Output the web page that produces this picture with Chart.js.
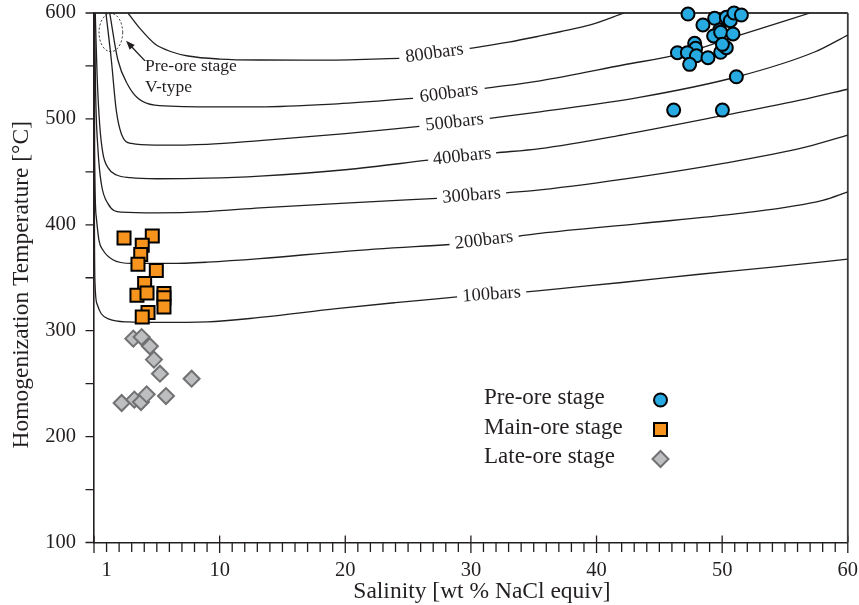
<!DOCTYPE html>
<html>
<head>
<meta charset="utf-8">
<script src="https://cdn.jsdelivr.net/npm/chart.js@4.4.1/dist/chart.umd.min.js"></script>
<style>
  html, body { margin: 0; padding: 0; background: #ffffff; }
  #wrap { width: 859px; height: 605px; }
</style>
</head>
<body>
<div id="wrap"><canvas id="chart" width="859" height="605"></canvas></div>
<script>
const SERIF = '"Liberation Serif", "Times New Roman", Times, serif';
const INK = '#231f20';

// Axis ranges, labelled ticks and titles
const xRange = [0, 60];
const yRange = [100, 600];
const xTickLabels = [1, 10, 20, 30, 40, 50, 60];
const yTickLabels = [100, 200, 300, 400, 500, 600];
const xTitle = 'Salinity [wt % NaCl equiv]';
const yTitle = 'Homogenization Temperature [°C]';

// Fluid inclusions: salinity (wt% NaCl equiv) vs homogenization temperature (°C)
const preOreSal = [47.28, 48.47, 49.40, 50.33, 50.65, 50.94, 51.53, 49.80, 49.32, 49.88, 50.86, 47.81,
                   47.89, 46.44, 47.23, 47.95, 47.41, 48.87, 49.88, 50.33, 50.02, 51.13, 46.14, 50.02];
const preOreTh  = [599, 588.7, 595, 595.9, 592.7, 600, 598.1, 583.9, 578.3, 581.8, 580.2, 571.4,
                   566.6, 562.5, 562.5, 559.6, 551.5, 557.8, 562.9, 567.2, 570.4, 539.8, 508.3, 508.3];

const mainOreSal = [2.39, 4.64, 3.84, 3.72, 3.50, 4.96, 4.03, 3.42, 4.22, 5.57, 5.57, 5.57, 4.30, 3.84];
const mainOreTh  = [387.6, 389.5, 380.7, 371.9, 362.8, 356.8, 344.5, 333.5, 335.6, 335.1, 331, 322.4, 317.1, 312.9];

const lateOreSal = [3.13, 3.79, 4.45, 4.77, 5.25, 7.77, 2.20, 3.21, 3.74, 4.19, 5.73];
const lateOreTh  = [292.5, 294.0, 285.3, 272.7, 259.4, 254.7, 231.7, 234.9, 232.6, 239.9, 238.3];

// Isobars of the H2O-NaCl system; a null temperature marks where the label sits
const isobar100Sal = [0.01, 0.03, 0.08, 0.25, 0.58, 1.2, 2.7, 5, 9, 13.2, 19.3, 24, 28.9, 31.65, 34.4, 37.1, 42, 48.2, 54, 60];
const isobar100T   = [600, 420, 345, 325, 316, 311, 308.3, 307.8, 308.3, 312.5, 320.9, 326.5, 331.9, null, 336.6, 339.8, 345.5, 353.3, 360, 367.5];

const isobar200Sal = [0.03, 0.05, 0.18, 0.4, 0.72, 1.5, 3, 6, 9, 13.2, 20, 28.3, 31.05, 33.8, 35.5, 43.4, 51.4, 58, 60];
const isobar200T   = [600, 470, 407.5, 385, 376, 367, 363.5, 363.5, 364.7, 368, 375, 381.4, null, 389.2, 392, 401.2, 410.7, 423, 431];

const isobar300Sal = [0.05, 0.12, 0.32, 0.58, 1.11, 2.17, 5, 9, 13.2, 20, 27.3, 30.05, 32.8, 35.5, 43.4, 50.1, 56.7, 60];
const isobar300T   = [600, 530, 470.5, 439, 420, 412, 411.3, 412.5, 416, 420.5, 424.9, null, 430.2, 433, 445.3, 458, 473.6, 484.7];

const isobar400Sal = [0.1, 0.25, 0.45, 0.7, 1.11, 1.8, 2.9, 5, 9, 13.2, 20, 26.6, 29.3, 32, 35.5, 42.1, 50, 56.7, 60];
const isobar400T   = [600, 540, 495, 468, 454, 447, 444.5, 443.5, 444, 446, 452, 461, null, 468, 472, 485, 503, 519, 528];

const isobar500Sal = [0.95, 1.38, 1.77, 2.17, 2.97, 4.83, 9, 13.2, 20, 25.9, 28.7, 31.5, 35.5, 43.4, 51.2, 57.4, 60];
const isobar500T   = [600, 555.6, 508.3, 486.3, 476.8, 475.2, 476, 479.5, 486, 492.9, null, 500.5, 506.7, 520.3, 539.8, 563.4, 579.2];

const isobar600Sal = [1.25, 1.9, 2.7, 3.5, 4.83, 9, 13.2, 19, 25.4, 28.25, 31.1, 35.5, 42.1, 46.9, 51.4, 57];
const isobar600T   = [600, 555.6, 532, 519.4, 513, 511.4, 511.4, 514, 519.4, null, 528.8, 536, 550.9, 561.9, 579.2, 600];

const isobar800Sal = [2.7, 3.76, 4.83, 6.15, 7.48, 10, 13.2, 18, 24.3, 27.1, 29.9, 33, 35.5, 37.1, 39.5, 42.2];
const isobar800T   = [600, 584, 571, 563.4, 559.4, 556.5, 555.6, 555.5, 557.2, null, 566.6, 572.5, 578.3, 582.3, 588.7, 600];

const isobarNames = ['100bars', '200bars', '300bars', '400bars', '500bars', '600bars', '800bars'];
const isobarSal = [isobar100Sal, isobar200Sal, isobar300Sal, isobar400Sal, isobar500Sal, isobar600Sal, isobar800Sal];
const isobarT   = [isobar100T, isobar200T, isobar300T, isobar400T, isobar500T, isobar600T, isobar800T];

// Legend entries and the V-type note near the origin
const stageNames = ['Pre-ore stage', 'Main-ore stage', 'Late-ore stage'];
const noteLines = ['Pre-ore stage', 'V-type'];

const toPoints = (xs, ys) => xs.map((x, i) => ({ x: x, y: ys[i] }));

const stageStyles = [
  { pointStyle: 'circle',  radius: 6.5, fill: '#27aae1', stroke: '#000000', width: 2 },
  { pointStyle: 'rect',    radius: 9.2, fill: '#f7941d', stroke: '#000000', width: 2 },
  { pointStyle: 'rectRot', radius: 8,   fill: '#bcbec0', stroke: '#717173', width: 2 }
];
const stageData = [toPoints(preOreSal, preOreTh), toPoints(mainOreSal, mainOreTh), toPoints(lateOreSal, lateOreTh)];

const datasets = [];
stageNames.forEach((name, i) => {
  const s = stageStyles[i];
  datasets.push({
    label: name,
    data: stageData[i],
    pointStyle: s.pointStyle,
    pointRadius: s.radius,
    pointBackgroundColor: s.fill,
    pointBorderColor: s.stroke,
    pointBorderWidth: s.width,
    showLine: false,
    clip: false,
    order: 0
  });
});
isobarNames.forEach((name, i) => {
  datasets.push({
    label: name,
    data: toPoints(isobarSal[i], isobarT[i]),
    showLine: true,
    spanGaps: false,
    pointRadius: 0,
    borderColor: INK,
    borderWidth: 1.3,
    cubicInterpolationMode: 'monotone',
    order: 5
  });
});

// Tick marks, frame, axis titles, isobar labels, note and legend
const decorPlugin = {
  id: 'decor',
  beforeDatasetsDraw(chart) {
    const { ctx, chartArea: a, scales: { x, y } } = chart;
    ctx.save();
    ctx.strokeStyle = INK;
    ctx.lineWidth = 1.3;
    ctx.beginPath();
    for (let v = xRange[0]; v <= xRange[1]; v += 1) {
      const px = x.getPixelForValue(v);
      if (v % 10 === 0) { ctx.moveTo(px, a.bottom - 7); ctx.lineTo(px, a.bottom + 10.5); }
      else { ctx.moveTo(px, a.bottom); ctx.lineTo(px, a.bottom + 9.5); }
    }
    for (let v = yRange[0]; v <= yRange[1]; v += 50) {
      const py = y.getPixelForValue(v);
      ctx.moveTo(a.left - 8.5, py); ctx.lineTo(a.left, py);
    }
    ctx.stroke();
    ctx.lineWidth = 1.8;
    ctx.strokeStyle = '#3a3a3a';
    ctx.beginPath();
    ctx.moveTo(a.left, a.top); ctx.lineTo(a.right, a.top);
    ctx.moveTo(a.right, a.top); ctx.lineTo(a.right, a.bottom);
    ctx.stroke();

    // axis titles
    ctx.fillStyle = INK;
    ctx.font = '23.5px ' + SERIF;
    ctx.textAlign = 'center';
    ctx.textBaseline = 'alphabetic';
    ctx.fillText(xTitle, (a.left + a.right) / 2 + 11, 598);
    ctx.save();
    ctx.translate(27.5, (a.top + a.bottom) / 2 + 7);
    ctx.rotate(-Math.PI / 2);
    ctx.fillText(yTitle, 0, 0);
    ctx.restore();
    ctx.restore();
  },
  afterDatasetsDraw(chart) {
    const { ctx, scales: { x, y } } = chart;
    ctx.save();
    ctx.fillStyle = INK;

    // isobar labels sit in the break of each curve, following its slope
    ctx.font = '18.5px ' + SERIF;
    ctx.textAlign = 'center';
    ctx.textBaseline = 'middle';
    isobarNames.forEach((name, i) => {
      const xs = isobarSal[i], ts = isobarT[i];
      const k = ts.indexOf(null);
      const x0 = x.getPixelForValue(xs[k - 1]), y0 = y.getPixelForValue(ts[k - 1]);
      const x1 = x.getPixelForValue(xs[k + 1]), y1 = y.getPixelForValue(ts[k + 1]);
      const ang = Math.atan2(y1 - y0, x1 - x0);
      ctx.save();
      ctx.translate(x.getPixelForValue(xs[k]), (y0 + y1) / 2);
      ctx.rotate(ang);
      ctx.fillText(name, 0, 0);
      ctx.restore();
    });

    // dashed outline of the V-type pre-ore inclusions with a pointer
    const ex = x.getPixelForValue(1.34), ey = y.getPixelForValue(581.6);
    const erx = x.getPixelForValue(1.34 + 0.94) - ex, ery = ey - y.getPixelForValue(581.6 + 18.1);
    ctx.strokeStyle = INK;
    ctx.lineWidth = 1;
    ctx.setLineDash([2, 2]);
    ctx.beginPath();
    ctx.ellipse(ex, ey, erx, ery, 0, 0, Math.PI * 2);
    ctx.stroke();
    ctx.setLineDash([]);
    const ax0 = x.getPixelForValue(4.06), ay0 = y.getPixelForValue(554.8);
    const ax1 = x.getPixelForValue(2.55), ay1 = y.getPixelForValue(573.7);
    const aa = Math.atan2(ay1 - ay0, ax1 - ax0);
    ctx.lineWidth = 1.4;
    ctx.beginPath();
    ctx.moveTo(ax0, ay0);
    ctx.lineTo(ax1 - 6 * Math.cos(aa), ay1 - 6 * Math.sin(aa));
    ctx.stroke();
    ctx.beginPath();
    ctx.moveTo(ax1, ay1);
    ctx.lineTo(ax1 - 9 * Math.cos(aa) + 3.5 * Math.sin(aa), ay1 - 9 * Math.sin(aa) - 3.5 * Math.cos(aa));
    ctx.lineTo(ax1 - 9 * Math.cos(aa) - 3.5 * Math.sin(aa), ay1 - 9 * Math.sin(aa) + 3.5 * Math.cos(aa));
    ctx.closePath();
    ctx.fill();
    ctx.font = '17.5px ' + SERIF;
    ctx.textAlign = 'left';
    ctx.textBaseline = 'alphabetic';
    ctx.fillText(noteLines[0], x.getPixelForValue(4.06), y.getPixelForValue(545.5));
    ctx.fillText(noteLines[1], x.getPixelForValue(4.06), y.getPixelForValue(525.3));

    // legend: label on the left, symbol on the right
    ctx.font = '23px ' + SERIF;
    stageNames.forEach((name, i) => {
      const base = 404 + i * 29.5;
      ctx.fillStyle = INK;
      ctx.fillText(name, 484, base);
      const s = stageStyles[i];
      ctx.fillStyle = s.fill;
      ctx.strokeStyle = s.stroke;
      ctx.lineWidth = s.width;
      Chart.helpers.drawPoint(ctx, { pointStyle: s.pointStyle, radius: s.radius, rotation: 0, borderWidth: s.width }, 660.5, base - 4);
    });
    ctx.restore();
  }
};

Chart.defaults.font.family = SERIF;
Chart.defaults.color = INK;

new Chart(document.getElementById('chart'), {
  type: 'scatter',
  data: { datasets: datasets },
  options: {
    responsive: false,
    animation: false,
    devicePixelRatio: 1,
    layout: { padding: { top: 13, right: 11, left: 0, bottom: 0 } },
    plugins: { legend: { display: false }, tooltip: { enabled: false } },
    scales: {
      x: {
        type: 'linear',
        position: 'bottom',
        min: xRange[0],
        max: xRange[1],
        afterBuildTicks: (s) => { s.ticks = xTickLabels.map(v => ({ value: v })); },
        afterFit: (s) => { s.height = 62.5; s.paddingLeft = 0; s.paddingRight = 0; s.paddingTop = 0; s.paddingBottom = 0; },
        grid: { display: false, drawTicks: false },
        border: { display: true, color: INK, width: 1.6 },
        ticks: { font: { family: SERIF, size: 20.5 }, color: INK, padding: 16, maxRotation: 0, autoSkip: false },
        title: { display: false }
      },
      y: {
        type: 'linear',
        position: 'left',
        min: yRange[0],
        max: yRange[1],
        afterBuildTicks: (s) => { s.ticks = yTickLabels.map(v => ({ value: v })); },
        afterFit: (s) => { s.width = 94; s.paddingLeft = 0; s.paddingRight = 0; s.paddingTop = 0; s.paddingBottom = 0; },
        grid: { display: false, drawTicks: false },
        border: { display: true, color: INK, width: 1.6 },
        ticks: { font: { family: SERIF, size: 20.5 }, color: INK, padding: 18, autoSkip: false },
        title: { display: false }
      }
    }
  },
  plugins: [decorPlugin]
});
</script>
</body>
</html>
